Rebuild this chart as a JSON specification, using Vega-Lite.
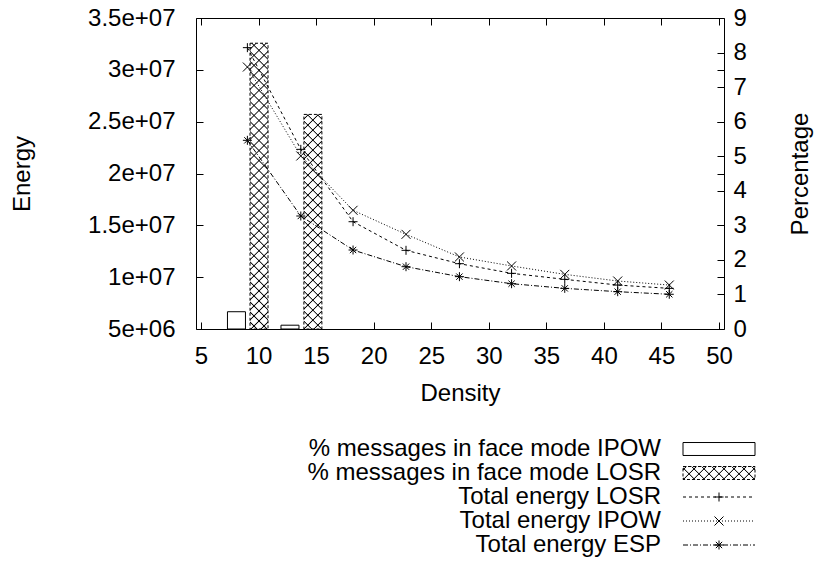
{
"$schema": "https://vega.github.io/schema/vega-lite/v6.json",
"padding": {"left": 10, "top": 5, "right": 2, "bottom": 2},
"background": "white",
"config": {
  "font": "Liberation Sans",
  "view": {"stroke": null},
  "axis": {"labelFont": "Liberation Sans", "titleFont": "Liberation Sans", "labelFontSize": 24, "titleFontSize": 24, "labelColor": "black", "titleColor": "black", "titleFontWeight": "normal", "tickColor": "black", "tickWidth": 1, "grid": false, "domain": false, "labelFlush": false, "labelOverlap": false}
},
"datasets": {
  "energy": [
    {"series": "LOSR", "density": 9.03, "energy": 32140000},
    {"series": "LOSR", "density": 13.67, "energy": 22330000},
    {"series": "LOSR", "density": 18.21, "energy": 15350000},
    {"series": "LOSR", "density": 22.81, "energy": 12590000},
    {"series": "LOSR", "density": 27.45, "energy": 11300000},
    {"series": "LOSR", "density": 31.98, "energy": 10370000},
    {"series": "LOSR", "density": 36.6, "energy": 9790000},
    {"series": "LOSR", "density": 41.2, "energy": 9240000},
    {"series": "LOSR", "density": 45.68, "energy": 8920000},
    {"series": "IPOW", "density": 9.03, "energy": 30270000},
    {"series": "IPOW", "density": 13.67, "energy": 21690000},
    {"series": "IPOW", "density": 18.21, "energy": 16450000},
    {"series": "IPOW", "density": 22.81, "energy": 14130000},
    {"series": "IPOW", "density": 27.45, "energy": 11950000},
    {"series": "IPOW", "density": 31.98, "energy": 11080000},
    {"series": "IPOW", "density": 36.6, "energy": 10270000},
    {"series": "IPOW", "density": 41.2, "energy": 9630000},
    {"series": "IPOW", "density": 45.68, "energy": 9240000},
    {"series": "ESP", "density": 9.03, "energy": 23200000},
    {"series": "ESP", "density": 13.67, "energy": 15900000},
    {"series": "ESP", "density": 18.21, "energy": 12620000},
    {"series": "ESP", "density": 22.81, "energy": 11010000},
    {"series": "ESP", "density": 27.45, "energy": 10050000},
    {"series": "ESP", "density": 31.98, "energy": 9370000},
    {"series": "ESP", "density": 36.6, "energy": 8920000},
    {"series": "ESP", "density": 41.2, "energy": 8600000},
    {"series": "ESP", "density": 45.68, "energy": 8350000}
  ],
  "pct": [
    {"series": "IPOW", "density": 8.08, "percentage": 0.5},
    {"series": "IPOW", "density": 12.73, "percentage": 0.11},
    {"series": "LOSR", "density": 10.04, "percentage": 8.27},
    {"series": "LOSR", "density": 14.72, "percentage": 6.21}
  ],
  "legend": [
    {"order": 1, "label": "% messages in face mode IPOW", "key": "IPOW%"},
    {"order": 2, "label": "% messages in face mode LOSR", "key": "LOSR%"},
    {"order": 3, "label": "Total energy LOSR", "key": "LOSR"},
    {"order": 4, "label": "Total energy IPOW", "key": "IPOW"},
    {"order": 5, "label": "Total energy ESP", "key": "ESP"}
  ]
},
"spacing": 120,
"bounds": "flush",
"resolve": {"scale": {"x": "independent", "y": "independent"}},
"vconcat": [
  {
    "width": 528,
    "height": 311,
    "view": {"stroke": "black", "strokeWidth": 1},
    "resolve": {"scale": {"y": "independent"}, "axis": {"x": "independent", "y": "independent"}},
    "layer": [
      {
        "data": {"name": "pct"},
        "encoding": {
          "x": {"field": "density", "type": "quantitative", "scale": {"domain": [5, 50], "nice": false, "zero": false}, "axis": null},
          "y": {"field": "percentage", "type": "quantitative", "scale": {"domain": [0, 9], "nice": false, "zero": true},
                "axis": {"orient": "right", "values": [0,1,2,3,4,5,6,7,8,9], "format": "d", "tickSize": -7, "labelPadding": 16, "title": "Percentage", "titleAngle": -90, "titleBaseline": "top", "titlePadding": 42}}
        },
        "layer": [
          {"transform": [{"filter": "datum.series == 'IPOW'"}],
           "mark": {"type": "bar", "width": 18, "fill": "white", "stroke": "black", "strokeWidth": 1, "opacity": 1}},
          {"transform": [{"filter": "datum.series == 'LOSR' && datum.density < 12"}],
           "mark": {"type": "bar", "width": 18, "opacity": 1, "strokeWidth": 0,
             "fill": {"gradient": "linear", "x1": 0, "y1": 0, "x2": 0.0666, "y2": 1.0587, "stops": [
{"offset":0.016,"color":"#fff"},{"offset":0.02,"color":"#000"},{"offset":0.024,"color":"#fff"},
{"offset":0.049,"color":"#fff"},{"offset":0.053,"color":"#000"},{"offset":0.057,"color":"#fff"},
{"offset":0.082,"color":"#fff"},{"offset":0.086,"color":"#000"},{"offset":0.09,"color":"#fff"},
{"offset":0.115,"color":"#fff"},{"offset":0.119,"color":"#000"},{"offset":0.123,"color":"#fff"},
{"offset":0.148,"color":"#fff"},{"offset":0.152,"color":"#000"},{"offset":0.156,"color":"#fff"},
{"offset":0.181,"color":"#fff"},{"offset":0.185,"color":"#000"},{"offset":0.189,"color":"#fff"},
{"offset":0.214,"color":"#fff"},{"offset":0.218,"color":"#000"},{"offset":0.222,"color":"#fff"},
{"offset":0.247,"color":"#fff"},{"offset":0.251,"color":"#000"},{"offset":0.255,"color":"#fff"},
{"offset":0.28,"color":"#fff"},{"offset":0.284,"color":"#000"},{"offset":0.288,"color":"#fff"},
{"offset":0.313,"color":"#fff"},{"offset":0.317,"color":"#000"},{"offset":0.321,"color":"#fff"},
{"offset":0.346,"color":"#fff"},{"offset":0.35,"color":"#000"},{"offset":0.354,"color":"#fff"},
{"offset":0.379,"color":"#fff"},{"offset":0.383,"color":"#000"},{"offset":0.387,"color":"#fff"},
{"offset":0.412,"color":"#fff"},{"offset":0.416,"color":"#000"},{"offset":0.42,"color":"#fff"},
{"offset":0.445,"color":"#fff"},{"offset":0.449,"color":"#000"},{"offset":0.453,"color":"#fff"},
{"offset":0.478,"color":"#fff"},{"offset":0.482,"color":"#000"},{"offset":0.486,"color":"#fff"},
{"offset":0.511,"color":"#fff"},{"offset":0.515,"color":"#000"},{"offset":0.519,"color":"#fff"},
{"offset":0.544,"color":"#fff"},{"offset":0.548,"color":"#000"},{"offset":0.552,"color":"#fff"},
{"offset":0.577,"color":"#fff"},{"offset":0.581,"color":"#000"},{"offset":0.585,"color":"#fff"},
{"offset":0.61,"color":"#fff"},{"offset":0.614,"color":"#000"},{"offset":0.618,"color":"#fff"},
{"offset":0.643,"color":"#fff"},{"offset":0.647,"color":"#000"},{"offset":0.651,"color":"#fff"},
{"offset":0.676,"color":"#fff"},{"offset":0.68,"color":"#000"},{"offset":0.684,"color":"#fff"},
{"offset":0.709,"color":"#fff"},{"offset":0.713,"color":"#000"},{"offset":0.717,"color":"#fff"},
{"offset":0.742,"color":"#fff"},{"offset":0.746,"color":"#000"},{"offset":0.75,"color":"#fff"},
{"offset":0.775,"color":"#fff"},{"offset":0.779,"color":"#000"},{"offset":0.783,"color":"#fff"},
{"offset":0.808,"color":"#fff"},{"offset":0.812,"color":"#000"},{"offset":0.816,"color":"#fff"},
{"offset":0.841,"color":"#fff"},{"offset":0.845,"color":"#000"},{"offset":0.849,"color":"#fff"},
{"offset":0.874,"color":"#fff"},{"offset":0.878,"color":"#000"},{"offset":0.882,"color":"#fff"},
{"offset":0.907,"color":"#fff"},{"offset":0.911,"color":"#000"},{"offset":0.915,"color":"#fff"},
{"offset":0.94,"color":"#fff"},{"offset":0.944,"color":"#000"},{"offset":0.948,"color":"#fff"},
{"offset":0.973,"color":"#fff"},{"offset":0.977,"color":"#000"},{"offset":0.981,"color":"#fff"}
             ]}}},
          {"transform": [{"filter": "datum.series == 'LOSR' && datum.density < 12"}],
           "mark": {"type": "bar", "width": 18, "opacity": 1, "stroke": "black", "strokeWidth": 1, "strokeDash": [3, 2],
             "fill": {"gradient": "linear", "x1": 1, "y1": 0, "x2": 0.9334, "y2": 1.0587, "stops": [
{"offset":0.016,"color":"#0000"},{"offset":0.02,"color":"#000"},{"offset":0.024,"color":"#0000"},
{"offset":0.049,"color":"#0000"},{"offset":0.053,"color":"#000"},{"offset":0.057,"color":"#0000"},
{"offset":0.082,"color":"#0000"},{"offset":0.086,"color":"#000"},{"offset":0.09,"color":"#0000"},
{"offset":0.115,"color":"#0000"},{"offset":0.119,"color":"#000"},{"offset":0.123,"color":"#0000"},
{"offset":0.148,"color":"#0000"},{"offset":0.152,"color":"#000"},{"offset":0.156,"color":"#0000"},
{"offset":0.181,"color":"#0000"},{"offset":0.185,"color":"#000"},{"offset":0.189,"color":"#0000"},
{"offset":0.214,"color":"#0000"},{"offset":0.218,"color":"#000"},{"offset":0.222,"color":"#0000"},
{"offset":0.247,"color":"#0000"},{"offset":0.251,"color":"#000"},{"offset":0.255,"color":"#0000"},
{"offset":0.28,"color":"#0000"},{"offset":0.284,"color":"#000"},{"offset":0.288,"color":"#0000"},
{"offset":0.313,"color":"#0000"},{"offset":0.317,"color":"#000"},{"offset":0.321,"color":"#0000"},
{"offset":0.346,"color":"#0000"},{"offset":0.35,"color":"#000"},{"offset":0.354,"color":"#0000"},
{"offset":0.379,"color":"#0000"},{"offset":0.383,"color":"#000"},{"offset":0.387,"color":"#0000"},
{"offset":0.412,"color":"#0000"},{"offset":0.416,"color":"#000"},{"offset":0.42,"color":"#0000"},
{"offset":0.445,"color":"#0000"},{"offset":0.449,"color":"#000"},{"offset":0.453,"color":"#0000"},
{"offset":0.478,"color":"#0000"},{"offset":0.482,"color":"#000"},{"offset":0.486,"color":"#0000"},
{"offset":0.511,"color":"#0000"},{"offset":0.515,"color":"#000"},{"offset":0.519,"color":"#0000"},
{"offset":0.544,"color":"#0000"},{"offset":0.548,"color":"#000"},{"offset":0.552,"color":"#0000"},
{"offset":0.577,"color":"#0000"},{"offset":0.581,"color":"#000"},{"offset":0.585,"color":"#0000"},
{"offset":0.61,"color":"#0000"},{"offset":0.614,"color":"#000"},{"offset":0.618,"color":"#0000"},
{"offset":0.643,"color":"#0000"},{"offset":0.647,"color":"#000"},{"offset":0.651,"color":"#0000"},
{"offset":0.676,"color":"#0000"},{"offset":0.68,"color":"#000"},{"offset":0.684,"color":"#0000"},
{"offset":0.709,"color":"#0000"},{"offset":0.713,"color":"#000"},{"offset":0.717,"color":"#0000"},
{"offset":0.742,"color":"#0000"},{"offset":0.746,"color":"#000"},{"offset":0.75,"color":"#0000"},
{"offset":0.775,"color":"#0000"},{"offset":0.779,"color":"#000"},{"offset":0.783,"color":"#0000"},
{"offset":0.808,"color":"#0000"},{"offset":0.812,"color":"#000"},{"offset":0.816,"color":"#0000"},
{"offset":0.841,"color":"#0000"},{"offset":0.845,"color":"#000"},{"offset":0.849,"color":"#0000"},
{"offset":0.874,"color":"#0000"},{"offset":0.878,"color":"#000"},{"offset":0.882,"color":"#0000"},
{"offset":0.907,"color":"#0000"},{"offset":0.911,"color":"#000"},{"offset":0.915,"color":"#0000"},
{"offset":0.94,"color":"#0000"},{"offset":0.944,"color":"#000"},{"offset":0.948,"color":"#0000"},
{"offset":0.973,"color":"#0000"},{"offset":0.977,"color":"#000"},{"offset":0.981,"color":"#0000"}
             ]}}},
          {"transform": [{"filter": "datum.series == 'LOSR' && datum.density > 12"}],
           "mark": {"type": "bar", "width": 18, "opacity": 1, "strokeWidth": 0,
             "fill": {"gradient": "linear", "x1": 0, "y1": 0, "x2": 0.0903, "y2": 1.0763, "stops": [
{"offset":0.015,"color":"#fff"},{"offset":0.02,"color":"#000"},{"offset":0.025,"color":"#fff"},
{"offset":0.058,"color":"#fff"},{"offset":0.063,"color":"#000"},{"offset":0.068,"color":"#fff"},
{"offset":0.101,"color":"#fff"},{"offset":0.106,"color":"#000"},{"offset":0.111,"color":"#fff"},
{"offset":0.144,"color":"#fff"},{"offset":0.149,"color":"#000"},{"offset":0.154,"color":"#fff"},
{"offset":0.187,"color":"#fff"},{"offset":0.192,"color":"#000"},{"offset":0.197,"color":"#fff"},
{"offset":0.23,"color":"#fff"},{"offset":0.235,"color":"#000"},{"offset":0.24,"color":"#fff"},
{"offset":0.273,"color":"#fff"},{"offset":0.278,"color":"#000"},{"offset":0.283,"color":"#fff"},
{"offset":0.316,"color":"#fff"},{"offset":0.321,"color":"#000"},{"offset":0.326,"color":"#fff"},
{"offset":0.359,"color":"#fff"},{"offset":0.364,"color":"#000"},{"offset":0.369,"color":"#fff"},
{"offset":0.402,"color":"#fff"},{"offset":0.407,"color":"#000"},{"offset":0.412,"color":"#fff"},
{"offset":0.445,"color":"#fff"},{"offset":0.45,"color":"#000"},{"offset":0.455,"color":"#fff"},
{"offset":0.488,"color":"#fff"},{"offset":0.493,"color":"#000"},{"offset":0.498,"color":"#fff"},
{"offset":0.531,"color":"#fff"},{"offset":0.536,"color":"#000"},{"offset":0.541,"color":"#fff"},
{"offset":0.574,"color":"#fff"},{"offset":0.579,"color":"#000"},{"offset":0.584,"color":"#fff"},
{"offset":0.617,"color":"#fff"},{"offset":0.622,"color":"#000"},{"offset":0.627,"color":"#fff"},
{"offset":0.66,"color":"#fff"},{"offset":0.665,"color":"#000"},{"offset":0.67,"color":"#fff"},
{"offset":0.703,"color":"#fff"},{"offset":0.708,"color":"#000"},{"offset":0.713,"color":"#fff"},
{"offset":0.746,"color":"#fff"},{"offset":0.751,"color":"#000"},{"offset":0.756,"color":"#fff"},
{"offset":0.789,"color":"#fff"},{"offset":0.794,"color":"#000"},{"offset":0.799,"color":"#fff"},
{"offset":0.832,"color":"#fff"},{"offset":0.837,"color":"#000"},{"offset":0.842,"color":"#fff"},
{"offset":0.875,"color":"#fff"},{"offset":0.88,"color":"#000"},{"offset":0.885,"color":"#fff"},
{"offset":0.918,"color":"#fff"},{"offset":0.923,"color":"#000"},{"offset":0.928,"color":"#fff"},
{"offset":0.961,"color":"#fff"},{"offset":0.966,"color":"#000"},{"offset":0.971,"color":"#fff"}
             ]}}},
          {"transform": [{"filter": "datum.series == 'LOSR' && datum.density > 12"}],
           "mark": {"type": "bar", "width": 18, "opacity": 1, "stroke": "black", "strokeWidth": 1, "strokeDash": [3, 2],
             "fill": {"gradient": "linear", "x1": 1, "y1": 0, "x2": 0.9097, "y2": 1.0763, "stops": [
{"offset":0.015,"color":"#0000"},{"offset":0.02,"color":"#000"},{"offset":0.025,"color":"#0000"},
{"offset":0.058,"color":"#0000"},{"offset":0.063,"color":"#000"},{"offset":0.068,"color":"#0000"},
{"offset":0.101,"color":"#0000"},{"offset":0.106,"color":"#000"},{"offset":0.111,"color":"#0000"},
{"offset":0.144,"color":"#0000"},{"offset":0.149,"color":"#000"},{"offset":0.154,"color":"#0000"},
{"offset":0.187,"color":"#0000"},{"offset":0.192,"color":"#000"},{"offset":0.197,"color":"#0000"},
{"offset":0.23,"color":"#0000"},{"offset":0.235,"color":"#000"},{"offset":0.24,"color":"#0000"},
{"offset":0.273,"color":"#0000"},{"offset":0.278,"color":"#000"},{"offset":0.283,"color":"#0000"},
{"offset":0.316,"color":"#0000"},{"offset":0.321,"color":"#000"},{"offset":0.326,"color":"#0000"},
{"offset":0.359,"color":"#0000"},{"offset":0.364,"color":"#000"},{"offset":0.369,"color":"#0000"},
{"offset":0.402,"color":"#0000"},{"offset":0.407,"color":"#000"},{"offset":0.412,"color":"#0000"},
{"offset":0.445,"color":"#0000"},{"offset":0.45,"color":"#000"},{"offset":0.455,"color":"#0000"},
{"offset":0.488,"color":"#0000"},{"offset":0.493,"color":"#000"},{"offset":0.498,"color":"#0000"},
{"offset":0.531,"color":"#0000"},{"offset":0.536,"color":"#000"},{"offset":0.541,"color":"#0000"},
{"offset":0.574,"color":"#0000"},{"offset":0.579,"color":"#000"},{"offset":0.584,"color":"#0000"},
{"offset":0.617,"color":"#0000"},{"offset":0.622,"color":"#000"},{"offset":0.627,"color":"#0000"},
{"offset":0.66,"color":"#0000"},{"offset":0.665,"color":"#000"},{"offset":0.67,"color":"#0000"},
{"offset":0.703,"color":"#0000"},{"offset":0.708,"color":"#000"},{"offset":0.713,"color":"#0000"},
{"offset":0.746,"color":"#0000"},{"offset":0.751,"color":"#000"},{"offset":0.756,"color":"#0000"},
{"offset":0.789,"color":"#0000"},{"offset":0.794,"color":"#000"},{"offset":0.799,"color":"#0000"},
{"offset":0.832,"color":"#0000"},{"offset":0.837,"color":"#000"},{"offset":0.842,"color":"#0000"},
{"offset":0.875,"color":"#0000"},{"offset":0.88,"color":"#000"},{"offset":0.885,"color":"#0000"},
{"offset":0.918,"color":"#0000"},{"offset":0.923,"color":"#000"},{"offset":0.928,"color":"#0000"},
{"offset":0.961,"color":"#0000"},{"offset":0.966,"color":"#000"},{"offset":0.971,"color":"#0000"}
             ]}}}
        ]
      },
      {
        "data": {"name": "energy"},
        "encoding": {
          "x": {"field": "density", "type": "quantitative", "scale": {"domain": [5, 50], "nice": false, "zero": false},
                "axis": {"orient": "bottom", "values": [5,10,15,20,25,30,35,40,45,50], "tickSize": -7, "labelPadding": 22, "title": "Density", "titlePadding": 13}},
          "y": {"field": "energy", "type": "quantitative", "scale": {"domain": [5000000, 35000000], "nice": false, "zero": false},
                "axis": {"orient": "left", "values": [5000000,10000000,15000000,20000000,25000000,30000000,35000000], "labelExpr": "replace(format(datum.value, '~e'), 'e+', 'e+0')", "tickSize": -7, "labelPadding": 28, "title": "Energy", "titlePadding": 53}}
        },
        "layer": [
          {"mark": {"type": "line", "color": "black", "strokeWidth": 1},
           "encoding": {"strokeDash": {"field": "series", "type": "nominal", "scale": {"domain": ["LOSR", "IPOW", "ESP"], "range": [[3, 3], [1, 2], [5, 2, 1, 2]]}, "legend": null}}},
          {"mark": {"type": "point", "filled": false, "color": "black", "strokeWidth": 1, "size": 81, "opacity": 1},
           "encoding": {"shape": {"field": "series", "type": "nominal", "scale": {"domain": ["LOSR", "IPOW", "ESP"], "range": ["M-1,0L1,0M0,-1L0,1", "M-1,-1L1,1M-1,1L1,-1", "M-1,0L1,0M0,-1L0,1M-0.7,-0.7L0.7,0.7M-0.7,0.7L0.7,-0.7"]}, "legend": null}}}
        ]
      },
      {
        "data": {"name": "energy"},
        "mark": {"type": "point", "opacity": 0},
        "encoding": {
          "x": {"field": "density", "type": "quantitative", "scale": {"domain": [5, 50], "nice": false, "zero": false},
                "axis": {"orient": "top", "values": [5,10,15,20,25,30,35,40,45,50], "tickSize": -7, "labels": false, "title": null}},
          "y": {"field": "energy", "type": "quantitative", "scale": {"domain": [5000000, 35000000], "nice": false, "zero": false},
                "axis": {"orient": "right", "values": [10000000,15000000,20000000,25000000,30000000], "tickSize": -7, "labels": false, "title": null}}
        }
      }
    ]
  },
  {
    "width": 528,
    "height": 96,
    "data": {"name": "legend"},
    "encoding": {"y": {"field": "order", "type": "ordinal", "scale": {"type": "point", "padding": 0}, "axis": null}},
    "layer": [
      {"mark": {"type": "text", "align": "right", "baseline": "middle", "fontSize": 24, "font": "Liberation Sans", "color": "black"},
       "encoding": {"x": {"datum": 465, "type": "quantitative", "scale": {"domain": [0, 528], "nice": false, "zero": false}, "axis": null}, "text": {"field": "label"}}},
      {"transform": [{"filter": "datum.key == 'IPOW%'"}],
       "mark": {"type": "point", "shape": "M-1,-0.18L1,-0.18L1,0.18L-1,0.18Z", "size": 5184, "filled": true, "fill": "white", "stroke": "black", "strokeWidth": 1, "opacity": 1},
       "encoding": {"x": {"datum": 523, "type": "quantitative", "scale": {"domain": [0, 528], "nice": false, "zero": false}, "axis": null}}},
      {"transform": [{"filter": "datum.key == 'LOSR%'"}],
       "mark": {"type": "point", "shape": "M-1,-0.18L1,-0.18L1,0.18L-1,0.18Z", "size": 5184, "filled": true, "strokeWidth": 0, "opacity": 1,
         "fill": {"gradient": "linear", "x1": 0, "y1": 0, "x2": 1.1432, "y2": 0.2064, "stops": [
{"offset":0.027,"color":"#fff"},{"offset":0.04,"color":"#000"},{"offset":0.053,"color":"#fff"},
{"offset":0.145,"color":"#fff"},{"offset":0.158,"color":"#000"},{"offset":0.171,"color":"#fff"},
{"offset":0.262,"color":"#fff"},{"offset":0.275,"color":"#000"},{"offset":0.288,"color":"#fff"},
{"offset":0.38,"color":"#fff"},{"offset":0.393,"color":"#000"},{"offset":0.406,"color":"#fff"},
{"offset":0.497,"color":"#fff"},{"offset":0.51,"color":"#000"},{"offset":0.523,"color":"#fff"},
{"offset":0.615,"color":"#fff"},{"offset":0.628,"color":"#000"},{"offset":0.641,"color":"#fff"},
{"offset":0.733,"color":"#fff"},{"offset":0.746,"color":"#000"},{"offset":0.759,"color":"#fff"},
{"offset":0.85,"color":"#fff"},{"offset":0.863,"color":"#000"},{"offset":0.876,"color":"#fff"},
{"offset":0.968,"color":"#fff"},{"offset":0.981,"color":"#000"},{"offset":0.994,"color":"#fff"}
         ]}},
       "encoding": {"x": {"datum": 523, "type": "quantitative", "scale": {"domain": [0, 528], "nice": false, "zero": false}, "axis": null}}},
      {"transform": [{"filter": "datum.key == 'LOSR%'"}],
       "mark": {"type": "point", "shape": "M-1,-0.18L1,-0.18L1,0.18L-1,0.18Z", "size": 5184, "filled": true, "stroke": "black", "strokeWidth": 1, "strokeDash": [3, 2], "opacity": 1,
         "fill": {"gradient": "linear", "x1": 1, "y1": 0, "x2": -0.1432, "y2": 0.2064, "stops": [
{"offset":0.027,"color":"#0000"},{"offset":0.04,"color":"#000"},{"offset":0.053,"color":"#0000"},
{"offset":0.145,"color":"#0000"},{"offset":0.158,"color":"#000"},{"offset":0.171,"color":"#0000"},
{"offset":0.262,"color":"#0000"},{"offset":0.275,"color":"#000"},{"offset":0.288,"color":"#0000"},
{"offset":0.38,"color":"#0000"},{"offset":0.393,"color":"#000"},{"offset":0.406,"color":"#0000"},
{"offset":0.497,"color":"#0000"},{"offset":0.51,"color":"#000"},{"offset":0.523,"color":"#0000"},
{"offset":0.615,"color":"#0000"},{"offset":0.628,"color":"#000"},{"offset":0.641,"color":"#0000"},
{"offset":0.733,"color":"#0000"},{"offset":0.746,"color":"#000"},{"offset":0.759,"color":"#0000"},
{"offset":0.85,"color":"#0000"},{"offset":0.863,"color":"#000"},{"offset":0.876,"color":"#0000"},
{"offset":0.968,"color":"#0000"},{"offset":0.981,"color":"#000"},{"offset":0.994,"color":"#0000"}
         ]}},
       "encoding": {"x": {"datum": 523, "type": "quantitative", "scale": {"domain": [0, 528], "nice": false, "zero": false}, "axis": null}}},
      {"transform": [{"filter": "datum.key == 'LOSR' || datum.key == 'IPOW' || datum.key == 'ESP'"}],
       "mark": {"type": "rule", "color": "black", "strokeWidth": 1},
       "encoding": {"x": {"datum": 487, "type": "quantitative", "scale": {"domain": [0, 528], "nice": false, "zero": false}, "axis": null}, "x2": {"datum": 559},
                    "strokeDash": {"field": "key", "type": "nominal", "scale": {"domain": ["LOSR", "IPOW", "ESP"], "range": [[3, 3], [1, 2], [5, 2, 1, 2]]}, "legend": null}}},
      {"transform": [{"filter": "datum.key == 'LOSR' || datum.key == 'IPOW' || datum.key == 'ESP'"}],
       "mark": {"type": "point", "filled": false, "color": "black", "strokeWidth": 1, "size": 81, "opacity": 1},
       "encoding": {"x": {"datum": 523, "type": "quantitative", "scale": {"domain": [0, 528], "nice": false, "zero": false}, "axis": null},
                    "shape": {"field": "key", "type": "nominal", "scale": {"domain": ["LOSR", "IPOW", "ESP"], "range": ["M-1,0L1,0M0,-1L0,1", "M-1,-1L1,1M-1,1L1,-1", "M-1,0L1,0M0,-1L0,1M-0.7,-0.7L0.7,0.7M-0.7,0.7L0.7,-0.7"]}, "legend": null}}}
    ]
  }
]
}
